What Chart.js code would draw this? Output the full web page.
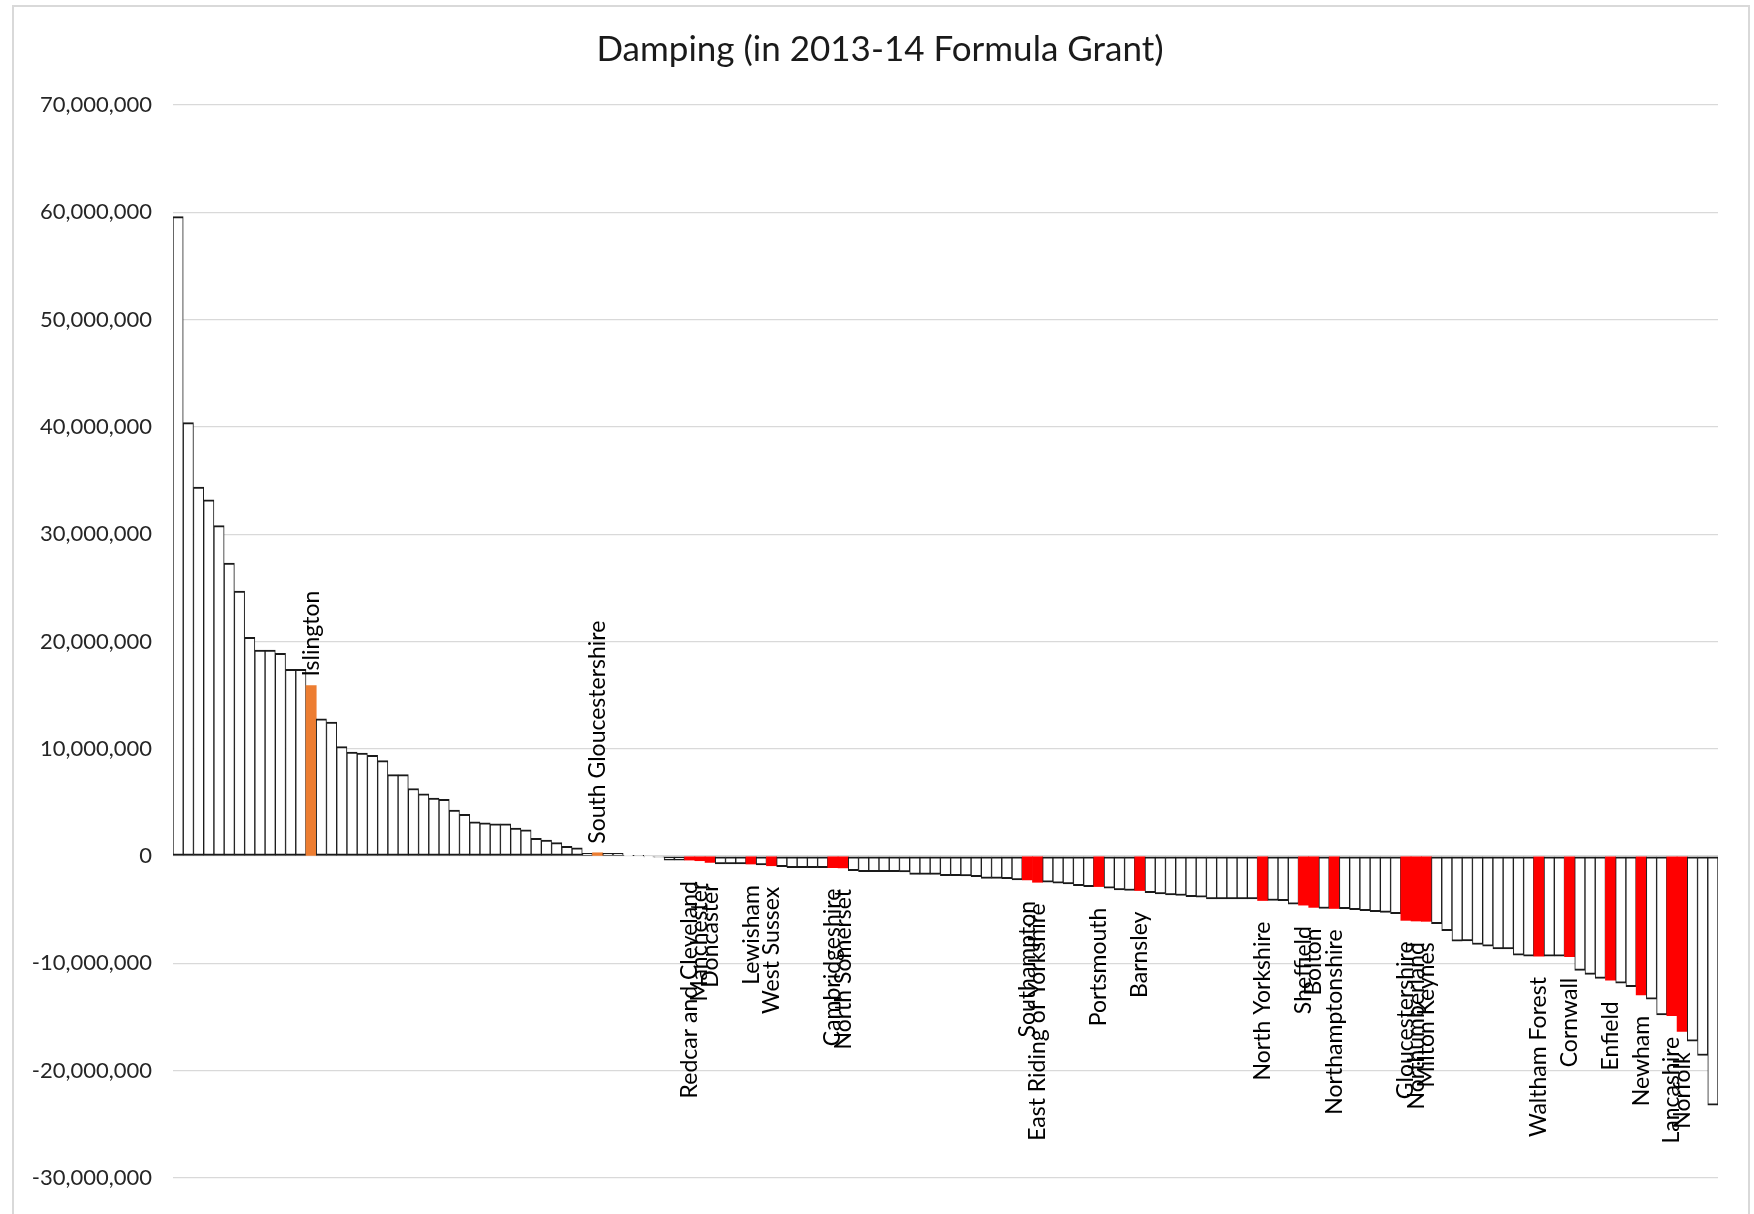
<!DOCTYPE html>
<html>
<head>
<meta charset="utf-8">
<title>Damping (in 2013-14 Formula Grant)</title>
<script src="https://cdn.jsdelivr.net/npm/chart.js@4.4.0/dist/chart.umd.min.js"></script>
<style>
  html, body { margin: 0; padding: 0; background: #fff; overflow: hidden; }
  #frame { position: absolute; left: 12px; top: 5px; width: 1734px; height: 1260px; border: 2px solid #d9d9d9; }
  #damping { position: absolute; left: 0; top: 0; }
</style>
</head>
<body>
<div id="frame"></div>
<canvas id="damping" width="1754" height="1214"></canvas>
<script>
// damping per authority, £ millions, largest gain to largest loss
const damping = [
  59.6, 40.4, 34.4, 33.2, 30.8, 27.3, 24.7, 20.4, 19.2, 19.2,
  18.9, 17.4, 17.4, 15.9, 12.8, 12.5, 10.2, 9.7, 9.6, 9.4,
  8.9, 7.6, 7.6, 6.3, 5.8, 5.4, 5.3, 4.3, 3.9, 3.2,
  3.1, 3.0, 3.0, 2.6, 2.45, 1.65, 1.5, 1.25, 0.9, 0.78,
  0.25, 0.31, 0.25, 0.25, 0.08, 0.05, -0.08, -0.1, -0.37, -0.37,
  -0.37, -0.43, -0.59, -0.74, -0.74, -0.74, -0.74, -0.83, -0.9, -0.99,
  -1.08, -1.08, -1.08, -1.08, -1.08, -1.1, -1.36, -1.45, -1.45, -1.45,
  -1.45, -1.47, -1.7, -1.7, -1.7, -1.82, -1.82, -1.85, -1.91, -2.07,
  -2.07, -2.1, -2.22, -2.22, -2.44, -2.44, -2.53, -2.6, -2.75, -2.84,
  -2.84, -2.99, -3.15, -3.21, -3.21, -3.4, -3.52, -3.61, -3.67, -3.77,
  -3.83, -3.98, -3.98, -3.98, -3.98, -3.99, -4.14, -4.14, -4.15, -4.48,
  -4.57, -4.78, -4.88, -4.88, -4.9, -5.0, -5.09, -5.19, -5.25, -5.37,
  -5.99, -6.05, -6.08, -6.3, -6.94, -7.93, -7.9, -8.24, -8.4, -8.64,
  -8.64, -9.23, -9.32, -9.32, -9.32, -9.32, -9.38, -10.65, -11.02, -11.39,
  -11.57, -11.85, -12.16, -12.93, -13.33, -14.81, -14.88, -16.33, -17.25, -18.58,
  -23.21
];

// bars that carry a name, by position in the list above
const namedIndex = [13, 41, 50, 51, 52, 56, 58, 64, 65, 83, 84, 90, 94,
  106, 110, 111, 113, 120, 121, 122, 133, 136, 140, 143, 146, 147];
const namedAuthorities = [
  'Islington', 'South Gloucestershire', 'Redcar and Cleveland', 'Manchester',
  'Doncaster', 'Lewisham', 'West Sussex', 'Cambridgeshire', 'North Somerset',
  'Southampton', 'East Riding of Yorkshire', 'Portsmouth', 'Barnsley',
  'North Yorkshire', 'Sheffield', 'Bolton', 'Northamptonshire',
  'Gloucestershire', 'Northumberland', 'Milton Keynes', 'Waltham Forest',
  'Cornwall', 'Enfield', 'Newham', 'Lancashire', 'Norfolk'
];

const chartTitle = 'Damping (in 2013-14 Formula Grant)';
const yMin = -30000000;
const yMax = 70000000;
const yStep = 10000000;

const labels = damping.map((v, i) => {
  const k = namedIndex.indexOf(i);
  return k >= 0 ? namedAuthorities[k] : '';
});

// named bars are filled (orange above zero, red below), the rest are outlined
const fills = damping.map((v, i) => {
  if (labels[i] === '') return '#ffffff';
  return v > 0 ? '#ed7d31' : '#ff0000';
});
const edges = labels.map(l => l === '' ? { top: 2, bottom: 2, left: 1, right: 1 } : 0);

// 10000000 -> "10,000,000", keeping the sign
function withCommas(v) {
  const digits = String(Math.abs(Math.round(v))).replace(/\B(?=(\d{3})+(?!\d))/g, ',');
  return (v < 0 ? '-' : '') + digits;
}

// title centred on the whole frame, not just the plot
const frameTitle = {
  id: 'frameTitle',
  afterDraw(chart) {
    const ctx = chart.ctx;
    ctx.save();
    ctx.font = '35px Lato';
    ctx.fillStyle = '#1a1a1a';
    ctx.textAlign = 'center';
    ctx.textBaseline = 'middle';
    ctx.fillText(chartTitle, 880, 50);
    ctx.restore();
  }
};

// rotated authority names at the end of each named bar
const barNames = {
  id: 'barNames',
  afterDatasetsDraw(chart) {
    const ctx = chart.ctx;
    const bars = chart.getDatasetMeta(0).data;
    ctx.save();
    ctx.font = '23px Lato';
    ctx.fillStyle = '#000000';
    ctx.textBaseline = 'middle';
    namedIndex.forEach((idx, k) => {
      const bar = bars[idx];
      const up = damping[idx] >= 0;
      ctx.save();
      ctx.translate(bar.x, up ? bar.y - 9 : bar.y + 21);
      ctx.rotate(-Math.PI / 2);
      ctx.textAlign = up ? 'left' : 'right';
      ctx.fillText(namedAuthorities[k], 0, 0);
      ctx.restore();
    });
    ctx.restore();
  }
};

function draw() {
  Chart.defaults.font.family = 'Lato';

  new Chart('damping', {
    type: 'bar',
    data: {
      labels: labels,
      datasets: [{
        data: damping.map(v => v * 1000000),
        backgroundColor: fills,
        borderColor: '#1a1a1a',
        borderWidth: edges,
        borderSkipped: false,
        categoryPercentage: 1,
        barPercentage: 1
      }]
    },
    options: {
      responsive: false,
      animation: false,
      layout: {
        padding: { left: 0, right: 36, top: 105, bottom: 28 }
      },
      plugins: {
        legend: { display: false },
        tooltip: { enabled: false },
        title: { display: false }
      },
      scales: {
        x: {
          ticks: { display: false },
          grid: { display: false },
          border: { display: false }
        },
        y: {
          min: yMin,
          max: yMax,
          ticks: {
            stepSize: yStep,
            padding: 21,
            color: '#262626',
            font: { size: 22 },
            callback: v => withCommas(v)
          },
          grid: { color: '#d9d9d9', lineWidth: 1.3, drawTicks: false },
          border: { display: false },
          afterFit: scale => { scale.width = 173; }
        }
      }
    },
    plugins: [barNames, frameTitle]
  });
}

document.fonts.load('22px Lato').then(draw, draw);
</script>
</body>
</html>
